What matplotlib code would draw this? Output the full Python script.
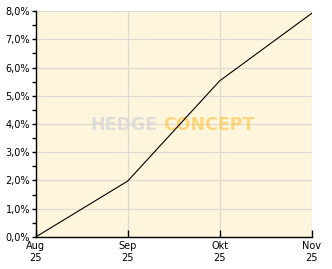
import matplotlib
matplotlib.use("Agg")
import matplotlib.pyplot as plt
from matplotlib.ticker import MultipleLocator, FuncFormatter

monate = ["Aug\n25", "Sep\n25", "Okt\n25", "Nov\n25"]
pos = [0, 1, 2, 3]
rendite = [0.0, 1.98, 5.53, 7.92]

fig = plt.figure(figsize=(3.32, 2.69), dpi=100)
ax = fig.add_axes([0.1075, 0.119, 0.8315, 0.840])
ax.set_facecolor("#fdf5dc")

ax.plot(pos, rendite, color="black", lw=0.8, zorder=3)

ax.set_xlim(0, 3)
ax.set_ylim(0, 8)
ax.set_xticks(pos)
ax.set_xticklabels(monate)
ax.yaxis.set_major_locator(MultipleLocator(1))
ax.yaxis.set_minor_locator(MultipleLocator(0.5))
ax.yaxis.set_major_formatter(FuncFormatter(lambda v, p: ("%.1f%%" % v).replace(".", ",")))

ax.grid(True, color="#dedad2", lw=0.9, zorder=1)
ax.set_axisbelow(True)
for s in ["top", "right"]:
    ax.spines[s].set_visible(False)
ax.spines["left"].set_linewidth(1.0)
ax.spines["bottom"].set_linewidth(1.0)

ax.tick_params(axis="x", direction="in", length=5, width=1, labelsize=7, pad=3)
ax.tick_params(axis="y", which="major", direction="out", length=3, width=1, labelsize=7, pad=1)
ax.tick_params(axis="y", which="minor", direction="out", length=3, width=1)

# Wasserzeichen
ax.text(0.443, 0.496, "HEDGE", transform=ax.transAxes, ha="right", va="center",
        fontsize=12.5, fontweight="bold", color="#d9d9d9", alpha=0.85, zorder=2)
ax.text(0.461, 0.496, "CONCEPT", transform=ax.transAxes, ha="left", va="center",
        fontsize=12.5, fontweight="bold", color="#ffc64a", alpha=0.65, zorder=2)

fig.savefig("out.png", dpi=100)
